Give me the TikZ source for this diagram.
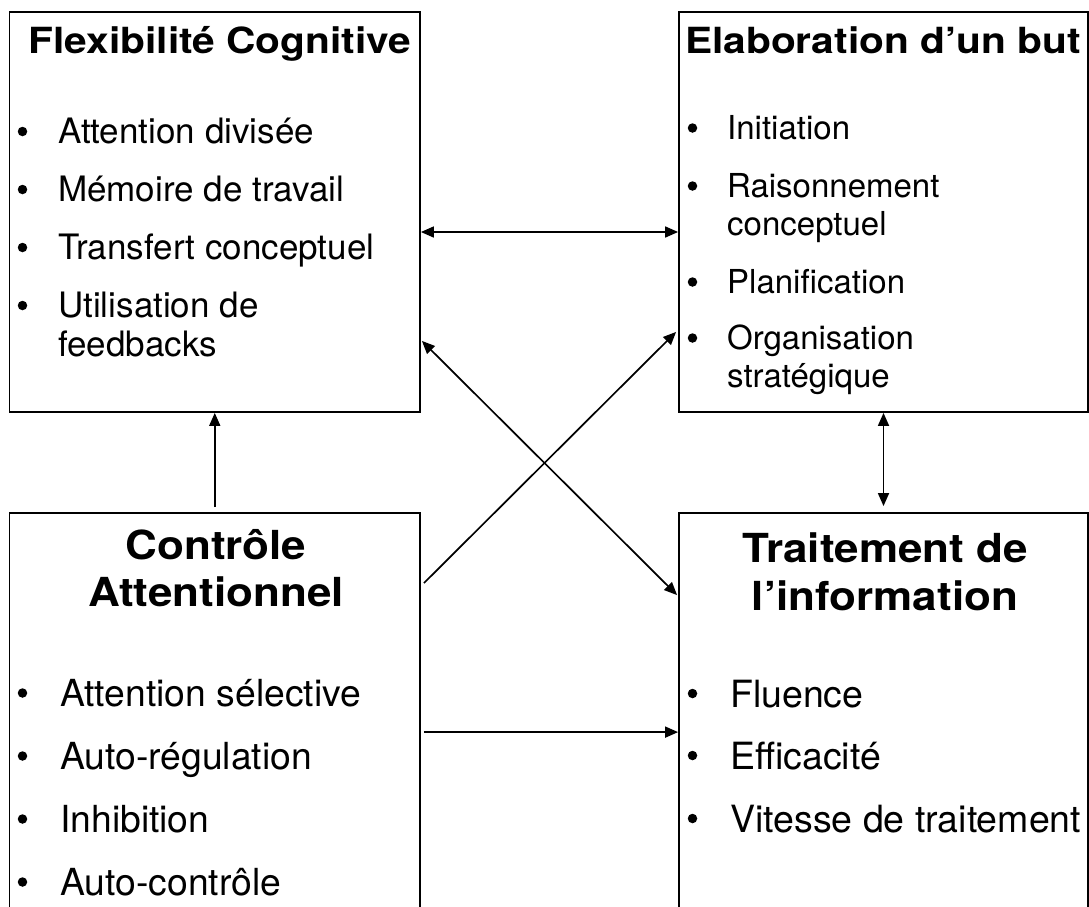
\documentclass[tikz,border=0pt]{standalone}
\usepackage{fontspec}
\setmainfont{TeX Gyre Heros}
\newfontfamily\topttl[FakeStretch=1.13]{TeX Gyre Heros}
\newfontfamily\botttl[FakeStretch=1.1]{TeX Gyre Heros}
\usetikzlibrary{arrows.meta}
\tikzset{
  box/.style={draw, line width=1.8pt, inner sep=0pt},
  arr/.style={line width=1.7pt, -{Triangle[length=13pt,width=11pt]}},
  darr/.style={line width=1.7pt, {Triangle[length=13pt,width=11pt]}-{Triangle[length=13pt,width=11pt]}},
  ttltop/.style={anchor=base, inner sep=0pt, font=\topttl\bfseries\fontsize{36}{40}\selectfont},
  ttlbot/.style={anchor=base, inner sep=0pt, align=center, font=\botttl\bfseries\fontsize{40}{47}\selectfont},
  itemA/.style={anchor=base west, inner sep=0pt, align=left, font=\fontsize{35}{39.5}\selectfont},
  itemB/.style={anchor=base west, inner sep=0pt, align=left, font=\fontsize{33}{38.5}\selectfont},
  itemC/.style={anchor=base west, inner sep=0pt, align=left, font=\fontsize{37.3}{45}\selectfont},
  itemD/.style={anchor=base west, inner sep=0pt, align=left, font=\fontsize{37.5}{45}\selectfont},
  bul/.style={circle, fill=black, inner sep=0pt, minimum size=9.5pt}
}
\begin{document}
\begin{tikzpicture}[x=1pt,y=-1pt]
\useasboundingbox (0,0) rectangle (1089,906);
\clip (0,0) rectangle (1089,906);
\fill[white] (0,0) rectangle (1089,906);
% boxes
\node[box, minimum width=410.5pt, minimum height=400pt] (flex) at (214.75,212) {};
\node[box, minimum width=409pt, minimum height=400pt] (elab) at (883.5,212) {};
\node[box, minimum width=410.5pt, minimum height=417pt] (ctrl) at (214.75,721.5) {};
\node[box, minimum width=409pt, minimum height=417pt] (trait) at (883.5,721.5) {};
% titles
\node[ttltop] (tflex) at (220,53) {Flexibilité Cognitive};
\node[ttltop] (telab) at (883,53) {Elaboration d’un but};
\node[ttlbot] (tctrl1) at (216,559) {Contrôle};
\node[ttlbot] (tctrl2) at (216,606) {Attentionnel};
\node[ttlbot] (ttrait1) at (885,562) {Traitement de};
\node[ttlbot] (ttrait2) at (885,610) {l’information};
% items: Flexibilite
\node[bul] (b11) at (22.5,131.5) {};
\node[itemA] (i11) at (58,143) {Attention divisée};
\node[bul] (b12) at (22.5,189.5) {};
\node[itemA] (i12) at (58,201) {Mémoire de travail};
\node[bul] (b13) at (22.5,247.5) {};
\node[itemA] (i13) at (58,259) {Transfert conceptuel};
\node[bul] (b14) at (22.5,305.5) {};
\node[itemA] (i14) at (58,356.5) {Utilisation de\\feedbacks};
% items: Elaboration
\node[bul] (b21) at (692.5,128) {};
\node[itemB] (i21) at (727,139) {Initiation};
\node[bul] (b22) at (692.5,186) {};
\node[itemB] (i22) at (727,235.5) {Raisonnement\\conceptuel};
\node[bul] (b23) at (692.5,282) {};
\node[itemB] (i23) at (727,293) {Planification};
\node[bul] (b24) at (692.5,338) {};
\node[itemB] (i24) at (727,387.5) {Organisation\\stratégique};
% items: Controle
\node[bul] (b31) at (22.5,693) {};
\node[itemC] (i31) at (60,706) {Attention sélective};
\node[bul] (b32) at (22.5,756) {};
\node[itemC] (i32) at (60,769) {Auto-régulation};
\node[bul] (b33) at (22.5,819) {};
\node[itemC] (i33) at (60,832) {Inhibition};
\node[bul] (b34) at (22.5,882) {};
\node[itemC] (i34) at (60,895) {Auto-contrôle};
% items: Traitement
\node[bul] (b41) at (692.5,693.5) {};
\node[itemD] (i41) at (730,707) {Fluence};
\node[bul] (b42) at (692.5,755.5) {};
\node[itemD] (i42) at (730,769) {Efficacité};
\node[bul] (b43) at (692.5,818.5) {};
\node[itemD] (i43) at (730,832) {Vitesse de traitement};
% connectors
\draw[arr, shorten <=5pt] (ctrl.north) -- (flex.south);
\draw[darr] ([yshift=-20pt]flex.east) -- ([yshift=-20pt]elab.west);
\draw[darr, shorten >=6pt] (elab.south) -- (trait.north);
\draw[arr] ([yshift=-71pt,xshift=3pt]ctrl.north east) -- ([yshift=81pt,xshift=-2pt]elab.south west);
\draw[darr] ([yshift=72pt,xshift=1pt]flex.south east) -- ([yshift=-83pt,xshift=-1pt]trait.north west);
\draw[arr] ([yshift=-220pt,xshift=3pt]ctrl.north east) -- ([yshift=-220pt]trait.north west);
\end{tikzpicture}
\end{document}
